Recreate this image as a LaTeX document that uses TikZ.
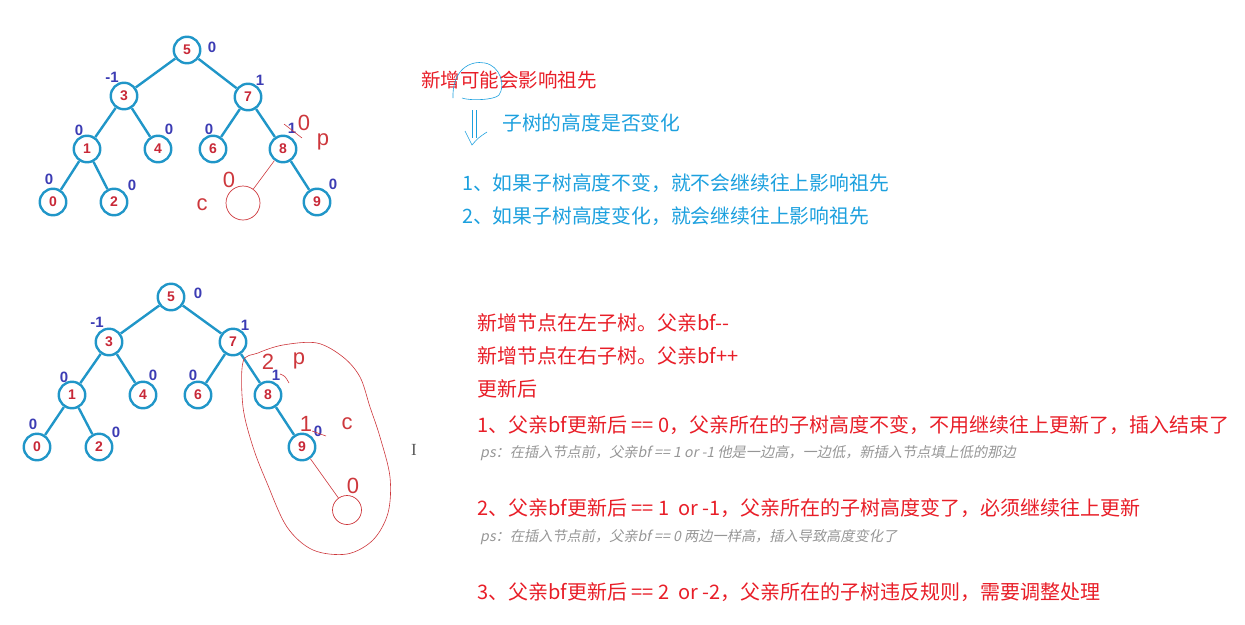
\documentclass[tikz,border=0pt]{standalone}
\usepackage{fontspec}
\setmainfont{Liberation Sans}
\newfontfamily\cjk{Noto Sans CJK SC}
\newfontfamily\cjkslant[FakeSlant=0.2]{Noto Sans CJK SC}
\newfontfamily\serifI{Liberation Serif}
\definecolor{nodeblue}{RGB}{32,150,200}
\definecolor{numred}{RGB}{200,40,55}
\definecolor{balblue}{RGB}{60,60,180}
\definecolor{handred}{RGB}{205,55,60}
\definecolor{tred}{RGB}{232,30,40}
\definecolor{tblue}{RGB}{28,160,222}
\definecolor{psgray}{RGB}{150,150,150}
\begin{document}
\begin{tikzpicture}[x=1pt,y=-1pt,
  tnode/.style={circle, draw=nodeblue, line width=2.4pt, minimum size=26.5pt, inner sep=0pt, fill=white, text=numred, font=\bfseries\fontsize{14}{14}\selectfont},
  tedge/.style={draw=nodeblue, line width=2.4pt},
  bal/.style={inner sep=0pt, text=balblue, font=\bfseries\fontsize{15}{15}\selectfont},
  hand/.style={inner sep=0pt, text=handred, font=\fontsize{22}{22}\selectfont},
  handline/.style={draw=handred, line width=0.6pt},
  newnode/.style={circle, draw=handred, line width=0.7pt, inner sep=0pt},
  redtxt/.style={anchor=west, inner sep=0pt, text=tred, font={\cjk\fontsize{19.5}{20}\selectfont}},
  redtxtb/.style={anchor=west, inner sep=0pt, text=tred, font={\cjk\fontsize{20}{20}\selectfont}},
  bluetxt/.style={anchor=west, inner sep=0pt, text=tblue, font={\cjk\fontsize{19.8}{20}\selectfont}},
  pstxt/.style={anchor=west, inner sep=0pt, text=psgray, font={\cjkslant\fontsize{14.2}{15}\selectfont}}
]
\useasboundingbox (0,0) rectangle (1245,624);

% ---------- tree 1 ----------
\node[tnode] (a5) at (187,50) {5};
\node[tnode] (a3) at (124,96) {3};
\node[tnode] (a7) at (248,97) {7};
\node[tnode] (a1) at (87,149) {1};
\node[tnode] (a4) at (158,149) {4};
\node[tnode] (a6) at (213,149) {6};
\node[tnode] (a8) at (283,149) {8};
\node[tnode] (a0) at (53,202) {0};
\node[tnode] (a2) at (114,202) {2};
\node[tnode] (a9) at (317,202) {9};
\node[newnode, minimum size=34pt] (ac) at (243,203) {};
\foreach \p/\c in {a5/a3,a5/a7,a3/a1,a3/a4,a7/a6,a7/a8,a1/a0,a1/a2,a8/a9}
  \draw[tedge] (\p) -- (\c);
\draw[handline] (a8) -- (ac);

\node[bal] (la5) at (212,47) {0};
\node[bal] (la3) at (112,77) {-1};
\node[bal] (la7) at (260,80) {1};
\node[bal] (la1) at (79,130) {0};
\node[bal] (la4) at (169,129) {0};
\node[bal] (la6) at (209,129) {0};
\node[bal] (la8) at (292,128) {1};
\node[bal] (la0) at (49,179) {0};
\node[bal] (la2) at (132,185) {0};
\node[bal] (la9) at (333,184) {0};
\draw[handline] (284,124) -- (302,138);
\node[hand] (ha0) at (304,123) {0};
\node[hand] (hap) at (323,142) {p};
\node[hand] (hac0) at (229,180) {0};
\node[hand] (hac) at (202,205) {c};

% ---------- tree 2 ----------
\node[tnode] (b5) at (171,297) {5};
\node[tnode] (b3) at (109,342) {3};
\node[tnode] (b7) at (233,342) {7};
\node[tnode] (b1) at (72,395) {1};
\node[tnode] (b4) at (143,395) {4};
\node[tnode] (b6) at (198,395) {6};
\node[tnode] (b8) at (268,395) {8};
\node[tnode] (b0) at (37,447) {0};
\node[tnode] (b2) at (99,447) {2};
\node[tnode] (b9) at (302,447) {9};
\node[newnode, minimum size=29pt] (bc) at (347,510) {};
\foreach \p/\c in {b5/b3,b5/b7,b3/b1,b3/b4,b7/b6,b7/b8,b1/b0,b1/b2,b8/b9}
  \draw[tedge] (\p) -- (\c);
\draw[handline] (b9) -- (bc);

\node[bal] (lb5) at (198,293) {0};
\node[bal] (lb3) at (97,322) {-1};
\node[bal] (lb7) at (245,325) {1};
\node[bal] (lb1) at (64,377) {0};
\node[bal] (lb4) at (153,375) {0};
\node[bal] (lb6) at (193,375) {0};
\node[bal] (lb8) at (276,375) {1};
\node[bal] (lb0) at (33,424) {0};
\node[bal] (lb2) at (116,432) {0};
\node[hand] (hb2) at (268,362) {2};
\node[hand] (hbp) at (299,361) {p};
\node[hand] (hb1) at (306,424) {1};
\node[bal] (lb9) at (318,431) {0};
\node[hand] (hbc) at (347,424) {c};
\node[hand] (hbc0) at (353,486) {0};
\draw[handline] (280,374) .. controls (285,376) .. (289,383);
\draw[handline] (312,431) -- (326,436);
\draw[handline] plot[smooth cycle, tension=0.55] coordinates {
  (243,362) (258,353) (283,345) (317,343) (343,357) (360,377) (370,407)
  (380,437) (390,477) (388,513) (373,540) (347,554) (313,550) (287,527)
  (267,483) (253,447) (243,407)};

\node[inner sep=0pt, text=black!65, font={\serifI\fontsize{17}{17}\selectfont}] (cursor) at (414,450) {I};

% ---------- right texts ----------
\node[redtxt] (t0) at (421,80) {新增可能会影响祖先};
\draw[draw=tblue, line width=0.6pt] (453,98) .. controls (452,70) and (470,60) .. (485,63)
  .. controls (500,66) and (506,85) .. (499,95) .. controls (495,100) and (470,101) .. (462,98);
\draw[draw=tblue, line width=0.6pt] (472,110) -- (472,138) (476,110) -- (476,138);
\draw[draw=tblue, line width=0.6pt] (465,131) .. controls (468,138) .. (472,145) .. controls (478,138) .. (487,132);
\node[bluetxt] (t1) at (502,123) {子树的高度是否变化};
\node[bluetxt] (t2) at (462,183) {1、如果子树高度不变，就不会继续往上影响祖先};
\node[bluetxt] (t3) at (462,216) {2、如果子树高度变化，就会继续往上影响祖先};

\node[redtxtb] (r1) at (477,323) {新增节点在左子树。父亲bf-{}-};
\node[redtxtb] (r2) at (477,356) {新增节点在右子树。父亲bf++};
\node[redtxtb] (r3) at (477,389) {更新后};
\node[redtxtb] (r4) at (477,425) {1、父亲bf更新后 == 0，父亲所在的子树高度不变，不用继续往上更新了，插入结束了};
\node[pstxt] (p1) at (480,453) {ps：在插入节点前，父亲bf == 1 or -1 他是一边高，一边低，新插入节点填上低的那边};
\node[redtxtb] (r5) at (477,508) {2、父亲bf更新后 == 1\ \ or -1，父亲所在的子树高度变了，必须继续往上更新};
\node[pstxt] (p2) at (480,537) {ps：在插入节点前，父亲bf == 0 两边一样高，插入导致高度变化了};
\node[redtxtb] (r6) at (477,592) {3、父亲bf更新后 == 2\ \ or -2，父亲所在的子树违反规则，需要调整处理};
\end{tikzpicture}
\end{document}
